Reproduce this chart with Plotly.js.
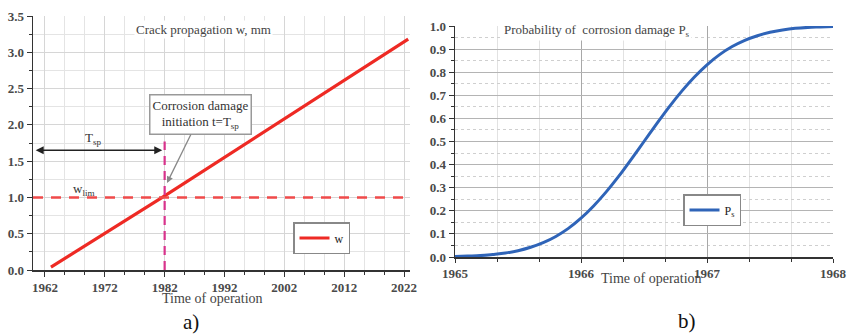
<!DOCTYPE html>
<html>
<head>
<meta charset="utf-8">
<script src="https://cdn.plot.ly/plotly-3.0.1.min.js"></script>
<style>
html,body{margin:0;padding:0;background:#fff;}
#chart{width:847px;height:335px;}
</style>
</head>
<body>
<div id="chart"></div>
<script>
// ---- Panel a) crack propagation ----
const crackYears = [1963, 1982, 2022.7];
const crackWidth = [0.04, 1.02, 3.18];
const wLimYears = [1960, 2023];
const wLimValue = [1.0, 1.0];
const tspYears = [1982, 1982];
const tspValues = [0, 1.77];
const xTicksA = [1962, 1972, 1982, 1992, 2002, 2012, 2022];
const yTicksA = [0, 0.5, 1.0, 1.5, 2.0, 2.5, 3.0, 3.5];

// ---- Panel b) probability of corrosion damage ----
const probYears = [1965.0,1965.1,1965.2,1965.3,1965.4,1965.5,1965.6,1965.7,1965.8,1965.9,
                   1966.0,1966.1,1966.2,1966.3,1966.4,1966.5,1966.6,1966.7,1966.8,1966.9,
                   1967.0,1967.1,1967.2,1967.3,1967.4,1967.5,1967.6,1967.7,1967.8,1967.9,1968.0];
const probValues = [0.002,0.004,0.006,0.011,0.017,0.027,0.042,0.062,0.089,0.124,
                    0.168,0.221,0.282,0.350,0.424,0.500,0.576,0.650,0.718,0.779,
                    0.832,0.876,0.911,0.938,0.958,0.973,0.983,0.990,0.994,0.996,0.998];
const xTicksB = [1965, 1966, 1967, 1968];
const yTicksB = [0,0.1,0.2,0.3,0.4,0.5,0.6,0.7,0.8,0.9,1.0];

const serif = '"Liberation Serif", "DejaVu Serif", serif';
const W = 847, H = 335;
const px = v => v / W;
const py = v => 1 - v / H;

const traces = [
  {x: crackYears, y: crackWidth, mode: 'lines', name: 'w', xaxis: 'x', yaxis: 'y',
   line: {color: '#ee2a24', width: 3.2}, legend: 'legend'},
  {x: wLimYears, y: wLimValue, mode: 'lines', showlegend: false, xaxis: 'x', yaxis: 'y',
   line: {color: '#f04a4a', width: 2.5, dash: '10px,8px'}},
  {x: tspYears, y: tspValues, mode: 'lines', showlegend: false, xaxis: 'x', yaxis: 'y',
   line: {color: '#d8338c', width: 2.2, dash: '9px,6px'}},
  {x: probYears, y: probValues, mode: 'lines', name: 'P<sub>s</sub>', xaxis: 'x2', yaxis: 'y2',
   line: {color: '#2f64b8', width: 3, shape: 'spline'}, legend: 'legend2'}
];

function axisBase() {
  return {showline: true, linecolor: '#333', linewidth: 1.5, zeroline: false,
          ticks: 'outside', ticklen: 5, tickcolor: '#333',
          tickfont: {family: serif, size: 13, color: '#4a4a4a', weight: 'bold'}};
}

function note(x, y, text, size, color, extra) {
  return Object.assign({xref: 'paper', yref: 'paper', x: px(x), y: py(y), text: text,
    xanchor: 'center', yanchor: 'middle', showarrow: false,
    font: {family: serif, size: size, color: color}}, extra || {});
}

const layout = {
  width: W, height: H,
  margin: {l: 0, r: 0, t: 0, b: 0},
  paper_bgcolor: '#fff', plot_bgcolor: '#fff',
  font: {family: serif, color: '#333'},
  xaxis: Object.assign(axisBase(), {
    domain: [px(33), px(410)], range: [1960, 2023], anchor: 'y',
    tickvals: xTicksA, tickformat: 'd',
    showgrid: true, gridcolor: '#d6d6d6', gridwidth: 1,
    minor: {tick0: 1962, dtick: 10/3, showgrid: true, gridcolor: '#e4e4e4',
            ticks: 'outside', ticklen: 3, tickcolor: '#333'}
  }),
  yaxis: Object.assign(axisBase(), {
    domain: [py(270), py(16)], range: [0, 3.5], anchor: 'x',
    tickvals: yTicksA, tickformat: '.1f',
    showgrid: true, gridcolor: '#d6d6d6', gridwidth: 1,
    minor: {dtick: 0.25, showgrid: true, gridcolor: '#e4e4e4',
            ticks: 'outside', ticklen: 3, tickcolor: '#333'}
  }),
  xaxis2: Object.assign(axisBase(), {
    domain: [px(455), px(833)], range: [1965, 1968], anchor: 'y2',
    tickvals: xTicksB, tickformat: 'd', ticklen: 4,
    showgrid: true, gridcolor: '#a8a8a8', gridwidth: 1,
    minor: {dtick: 1/3, tick0: 1965, showgrid: true, gridcolor: '#e2e2e2',
            ticks: 'outside', ticklen: 3, tickcolor: '#333'}
  }),
  yaxis2: Object.assign(axisBase(), {
    domain: [py(257), py(26)], range: [0, 1.0], anchor: 'x2',
    tickvals: yTicksB, tickformat: '.1f',
    showgrid: true, gridcolor: '#b4b4b4', gridwidth: 1,
    minor: {dtick: 0.05, showgrid: true, gridcolor: '#cfcfcf', griddash: 'dot',
            ticks: 'outside', ticklen: 3, tickcolor: '#333'}
  }),
  legend: {
    x: px(293), y: py(222), xanchor: 'left', yanchor: 'top',
    bgcolor: '#fff', bordercolor: '#888', borderwidth: 1.5,
    font: {family: serif, size: 12, color: '#222'},
    itemwidth: 30, tracegroupgap: 0
  },
  legend2: {
    x: px(683), y: py(194), xanchor: 'left', yanchor: 'top',
    bgcolor: '#fff', bordercolor: '#888', borderwidth: 1.5,
    font: {family: serif, size: 12, color: '#222'},
    itemwidth: 30
  },
  annotations: [
    note(203, 29, 'Crack propagation w, mm', 13, '#444', {bgcolor: '#fff'}),
    note(84, 189, 'w<sub>lim</sub>', 13, '#333'),
    note(93, 139, 'T<sub>sp</sub>', 13, '#333'),
    {xref: 'x', yref: 'y', x: 1981.6, y: 1.65, axref: 'x', ayref: 'y', ax: 1960.2, ay: 1.65,
     text: '', showarrow: true, arrowside: 'end+start', arrowhead: 2, arrowsize: 1,
     arrowwidth: 1.6, arrowcolor: '#222', standoff: 0, startstandoff: 0},
    {xref: 'x', yref: 'y', x: 1982.4, y: 1.2, axref: 'x', ayref: 'y', ax: 1988, ay: 2.14,
     text: 'Corrosion damage<br>initiation t=T<sub>sp</sub>', showarrow: true,
     arrowhead: 2, arrowsize: 1, arrowwidth: 1.3, arrowcolor: '#888',
     bgcolor: '#fff', bordercolor: '#999', borderwidth: 1.5, borderpad: 2,
     font: {family: serif, size: 13, color: '#333'}},
    note(212, 298, 'Time of operation', 14, '#444'),
    note(191, 322, 'a)', 21, '#111'),
    note(597, 30, 'Probability of  corrosion damage P<sub>s</sub>', 13, '#444', {bgcolor: '#fff'}),
    note(651, 278, 'Time of operation', 14, '#444'),
    note(687, 321, 'b)', 21, '#111')
  ]
};

Plotly.newPlot('chart', traces, layout, {displayModeBar: false, staticPlot: true});
</script>
</body>
</html>
